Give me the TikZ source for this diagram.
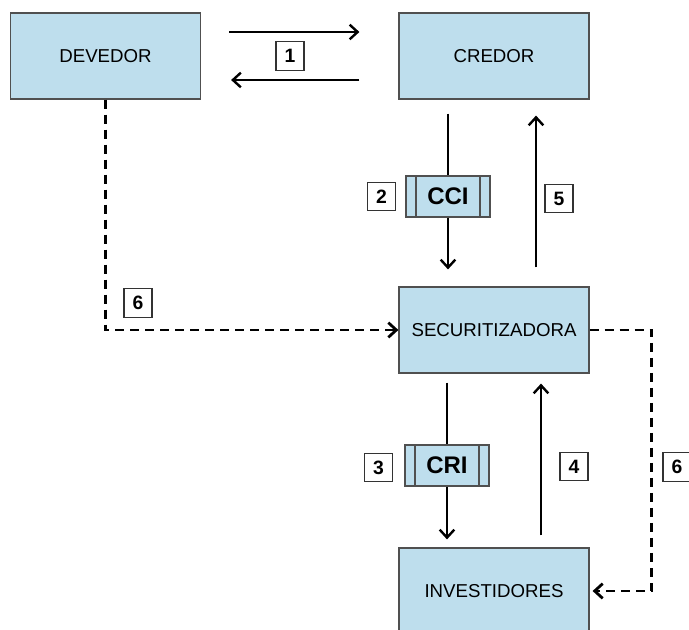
\documentclass[tikz,border=0pt]{standalone}
\usepackage{fontspec}
\setmainfont{Liberation Sans}
\usepackage{xcolor}
\usetikzlibrary{arrows.meta, positioning, calc}

\definecolor{caixa}{RGB}{190,222,237}
\definecolor{borda}{RGB}{80,80,80}

\tikzset{
  entidade/.style={draw=borda, line width=0.9pt, fill=caixa, minimum width=142.5pt, minimum height=64.5pt, inner sep=0pt, font=\fontsize{14}{16}\selectfont},
  titulo/.style={draw=borda, line width=0.9pt, fill=caixa, minimum width=63pt, minimum height=30.75pt, inner sep=0pt, font=\fontsize{18}{20}\selectfont\bfseries,
    path picture={
      \draw[borda, line width=0.9pt] ([xshift=7.5pt]path picture bounding box.south west) -- ([xshift=7.5pt]path picture bounding box.north west);
      \draw[borda, line width=0.9pt] ([xshift=-7.5pt]path picture bounding box.south east) -- ([xshift=-7.5pt]path picture bounding box.north east);
    }},
  passo/.style={draw=black!80, line width=0.8pt, fill=white, minimum width=21pt, minimum height=21.5pt, inner sep=0pt, font=\fontsize{14.5}{16}\selectfont\bfseries},
  seta/.style={line width=1.8pt, -{Straight Barb[length=6pt, width=11pt, line width=1.8pt]}},
  linha/.style={line width=1.8pt},
  tracejada/.style={line width=2.1pt, dash pattern=on 6.75pt off 4.5pt, -{Straight Barb[length=6pt, width=11pt, line width=2.1pt]}}
}

\begin{document}
\begin{tikzpicture}[x=0.75pt,y=0.75pt,yscale=-1,xscale=1]
\useasboundingbox (0,0) rectangle (689,630);

% Entidades
\node [entidade] (devedor) at (105.5,56) {DEVEDOR};
\node [entidade] (credor) at (494,56) {CREDOR};
\node [entidade] (securitizadora) at (494,330) {SECURITIZADORA};
\node [entidade] (investidores) at (494,591) {INVESTIDORES};

% Titulos
\node [titulo] (cci) at (448,196.5) {CCI};
\node [titulo] (cri) at (447,465.5) {CRI};

% Fluxo 1
\draw [seta] ($(devedor.east)+(28,-24)$) -- ($(credor.west)+(-39,-24)$);
\draw [seta] ($(credor.west)+(-39,24)$) -- ($(devedor.east)+(30,24)$);

% Fluxos 2 e 5
\draw [linha] ($(credor.south)+(-46,14)$) -- (cci.north);
\draw [seta] (cci.south) -- ($(securitizadora.north)+(-46,-17)$);
\draw [seta] ($(securitizadora.north)+(42,-19)$) -- ($(credor.south)+(42,16)$);

% Fluxos 3 e 4
\draw [linha] ($(securitizadora.south)+(-47,9)$) -- (cri.north);
\draw [seta] (cri.south) -- ($(investidores.north)+(-47,-8)$);
\draw [seta] ($(investidores.north)+(47,-12)$) -- ($(securitizadora.south)+(47,10)$);

% Fluxo 6
\draw [tracejada] (devedor.south) |- (securitizadora.west);
\draw [tracejada] (securitizadora.east) -- ++(62,0) |- ($(investidores.east)+(3,0)$);

% Passos
\node [passo] (p1) at (290,56) {1};
\node [passo] (p2) at (381.5,196.5) {2};
\node [passo] (p3) at (378.5,467.5) {3};
\node [passo] (p4) at (574,466.5) {4};
\node [passo] (p5) at (559,198.5) {5};
\node [passo] (p6a) at (138,303) {6};
\node [passo] (p6b) at (677,467) {6};

\end{tikzpicture}
\end{document}
